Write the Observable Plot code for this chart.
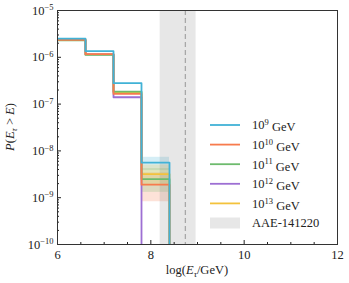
<!DOCTYPE html>
<html><head><meta charset="utf-8">
<script src="https://cdn.jsdelivr.net/npm/d3@7"></script>
<script src="https://cdn.jsdelivr.net/npm/@observablehq/plot@0.6"></script>
<style>
body{margin:0;background:#fff;}
#chart{position:relative;width:349px;height:283px;}
</style></head>
<body><div id="chart"></div>
<script>
// ---- data ----
const binEdges = [6, 6.6, 7.2, 7.8, 8.4];
const energyExp = [9, 10, 11, 12, 13];
const colors = ["#41b2d6", "#f77b4d", "#6dbb6d", "#9d6fd3", "#f3c23c"];
const pE9  = [2.5e-6, 1.35e-6, 2.8e-7, 5.6e-9];
const pE10 = [2.35e-6, 1.17e-6, 1.65e-7, 1.9e-9];
const pE11 = [2.3e-6, 1.13e-6, 1.85e-7, 2.5e-9];
const pE12 = [2.35e-6, 1.15e-6, 1.4e-7, 1e-13];
const pE13 = [2.4e-6, 1.15e-6, 1.78e-7, 3.2e-9];
// uncertainty bands for the last bin
const bandLo = [3.8e-9, 8.2e-10, 1.3e-9, null, 1.8e-9];
const bandHi = [7.3e-9, 3.4e-9, 4.2e-9, null, 5.0e-9];
const eventLo = 8.2, eventHi = 8.97, eventBest = 8.74;
const eventName = "AAE-141220";
const xMajor = [6, 8, 10, 12];
const xMinor = [6.5, 7, 7.5, 8.5, 9, 9.5, 10.5, 11, 11.5];
const yMajor = [1e-10, 1e-9, 1e-8, 1e-7, 1e-6, 1e-5];
const floorVal = 1e-13;

const seriesVals = [pE9, pE10, pE11, pE12, pE13];
const yMinor = [];
for (let e = -10; e < -5; e++) for (let m = 2; m <= 9; m++) yMinor.push(m * Math.pow(10, e));

// step points per series
const stepPts = [];
seriesVals.forEach((vals, s) => {
  vals.forEach((v, i) => stepPts.push({s, x: binEdges[i], y: v}));
  stepPts.push({s, x: binEdges[binEdges.length - 1], y: vals[vals.length - 1]});
  stepPts.push({s, x: binEdges[binEdges.length - 1], y: floorVal});
});
const bands = [];
bandLo.forEach((lo, s) => { if (lo != null) bands.push({s, x1: binEdges[3], x2: binEdges[4], y1: lo, y2: bandHi[s]}); });

const drawOrder = [4, 3, 2, 1, 0];
const lineMarks = drawOrder.map(s => Plot.line(stepPts.filter(d => d.s === s), {
  x: "x", y: "y", curve: "step-after", stroke: colors[s], strokeWidth: 1.8, clip: true
}));

const plot = Plot.plot({
  width: 349, height: 283,
  marginLeft: 57, marginRight: 12, marginTop: 10, marginBottom: 39,
  style: {fontFamily: "'Liberation Serif', serif", fontSize: "12px", background: "white", color: "#222"},
  x: {domain: [6, 12], label: null},
  y: {type: "log", domain: [1e-10, 1e-5], label: null},
  marks: [
    Plot.rect(bands, {x1: "x1", x2: "x2", y1: "y1", y2: "y2", fill: d => colors[d.s], fillOpacity: 0.22, clip: true}),
    Plot.rect([{a: eventLo, b: eventHi}], {x1: "a", x2: "b", fill: "#888", fillOpacity: 0.2}),
    Plot.ruleX([eventBest], {stroke: "#a8a8a8", strokeWidth: 1.3, strokeDasharray: "5,3"}),
    ...lineMarks,
    Plot.axisX({ticks: xMajor, tickSize: -4, tickPadding: 10, tickFormat: d => String(d), fontSize: 12.5, label: null}),
    Plot.axisX({ticks: xMinor, tickSize: -2, fill: "none", label: null}),
    Plot.axisY({ticks: yMajor, tickSize: -4, tickPadding: 8, tickFormat: d => "10^" + Math.round(Math.log10(d)), fontSize: 12.5, label: null}),
    Plot.axisY({ticks: yMinor, tickSize: -2, fill: "none", label: null}),
    Plot.frame({stroke: "#333", strokeWidth: 1})
  ]
});
document.getElementById("chart").appendChild(plot);

const svg = d3.select(plot);
// superscript tick labels
svg.selectAll('g[aria-label="y-axis tick label"] text').each(function() {
  const t = d3.select(this);
  const s = t.text();
  if (!s.includes("^")) return;
  const [base, ex] = s.split("^");
  t.text("");
  t.append("tspan").text(base);
  t.append("tspan").attr("dy", "-0.5em").attr("font-size", "8.5px").text(ex.replace("-", "−"));
});

// axis titles
const fontF = "'Liberation Serif', serif";
const xl = svg.append("text").attr("x", 197).attr("y", 274).attr("text-anchor", "middle")
  .attr("font-family", fontF).attr("font-size", 12.5).attr("fill", "#222");
xl.append("tspan").text("log(");
xl.append("tspan").attr("font-style", "italic").text("E");
xl.append("tspan").attr("font-style", "italic").attr("font-size", "9px").attr("dy", "3").text("τ");
xl.append("tspan").attr("dy", "-3").text("/GeV)");

const yl = svg.append("text").attr("transform", "translate(14,127) rotate(-90)").attr("text-anchor", "middle")
  .attr("font-family", fontF).attr("font-size", 12.5).attr("fill", "#222");
yl.append("tspan").attr("font-style", "italic").text("P");
yl.append("tspan").text("(");
yl.append("tspan").attr("font-style", "italic").text("E");
yl.append("tspan").attr("font-style", "italic").attr("font-size", "9px").attr("dy", "3").text("τ");
yl.append("tspan").attr("dy", "-3").text(" > ");
yl.append("tspan").attr("font-style", "italic").text("E");
yl.append("tspan").text(")");

// legend
const lg = svg.append("g").attr("font-family", fontF).attr("font-size", 12.5).attr("fill", "#222")
  .attr("text-anchor", "start");
const rowY = i => 125 + i * 19.6;
energyExp.forEach((ex, i) => {
  lg.append("line").attr("x1", 210).attr("x2", 240).attr("y1", rowY(i)).attr("y2", rowY(i))
    .attr("stroke", colors[i]).attr("stroke-width", 1.8);
  const t = lg.append("text").attr("x", 252).attr("y", rowY(i)).attr("dy", "0.35em").attr("text-anchor", "start");
  t.append("tspan").text("10");
  t.append("tspan").attr("dy", "-0.5em").attr("font-size", "8.5px").text(String(ex));
  t.append("tspan").attr("dy", "0.5em").text(" GeV");
});
{
  const i = energyExp.length;
  lg.append("rect").attr("x", 210).attr("y", rowY(i) - 5.5).attr("width", 30).attr("height", 11)
    .attr("fill", "#888").attr("fill-opacity", 0.2);
  lg.append("text").attr("x", 252).attr("y", rowY(i)).attr("dy", "0.35em").attr("text-anchor", "start").text(eventName);
}
</script></body></html>
